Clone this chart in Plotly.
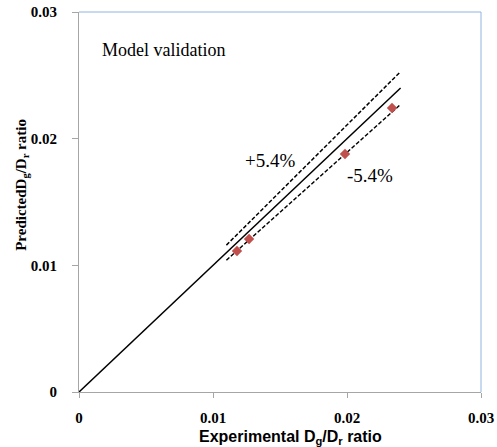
import plotly.graph_objects as go

exp_vals = [0.01179, 0.01269, 0.01985, 0.02336]
pred_vals = [0.01113, 0.01208, 0.01879, 0.02242]
line_x = [0.0, 0.024]
band_x = [0.011, 0.024]
band_pct = 0.054
x_ticks = [0, 0.01, 0.02, 0.03]
y_ticks = [0, 0.01, 0.02, 0.03]
tick_text = ["0", "0.01", "0.02", "0.03"]

fig = go.Figure()
fig.add_trace(go.Scatter(x=line_x, y=line_x, mode="lines",
                         line=dict(color="black", width=1.5), showlegend=False))
fig.add_trace(go.Scatter(x=band_x, y=[v * (1 + band_pct) for v in band_x], mode="lines",
                         line=dict(color="black", width=1.5, dash="4px,2px"), showlegend=False))
fig.add_trace(go.Scatter(x=band_x, y=[v * (1 - band_pct) for v in band_x], mode="lines",
                         line=dict(color="black", width=1.5, dash="4px,2px"), showlegend=False))
fig.add_trace(go.Scatter(x=exp_vals, y=pred_vals, mode="markers",
                         marker=dict(symbol="diamond", size=8, color="#c0504d"), showlegend=False))

serif = "Liberation Serif, Times New Roman, serif"
fig.add_annotation(x=0.0016, y=0.0270, text="Model validation", showarrow=False,
                   xanchor="left", font=dict(family=serif, size=18, color="black"))
fig.add_annotation(x=0.01425, y=0.0183, text="+5.4%", showarrow=False,
                   font=dict(family=serif, size=19, color="black"))
fig.add_annotation(x=0.0217, y=0.0171, text="-5.4%", showarrow=False,
                   font=dict(family=serif, size=19, color="black"))

# axis titles
fig.add_annotation(xref="paper", yref="paper", x=0.525, y=-0.121,
                   xanchor="center", yanchor="middle",
                   text="Experimental D<sub>g</sub>/D<sub>r</sub> ratio", showarrow=False,
                   font=dict(family="Liberation Sans, Arial, sans-serif", size=16,
                             color="black", weight="bold"))
fig.add_annotation(xref="paper", yref="paper", x=-0.142, y=0.545, textangle=-90,
                   xanchor="center", yanchor="middle",
                   text="PredictedD<sub>g</sub>/D<sub>r</sub> ratio", showarrow=False,
                   font=dict(family=serif, size=15, color="black", weight="bold"))

# top/right light blue border
fig.add_shape(type="line", xref="paper", yref="paper", x0=0, x1=1, y0=1, y1=1,
              line=dict(color="#8eb4e3", width=1))
fig.add_shape(type="line", xref="paper", yref="paper", x0=1, x1=1, y0=0, y1=1,
              line=dict(color="#8eb4e3", width=1))

fig.update_xaxes(range=[0, 0.03], tickvals=x_ticks, ticktext=tick_text, automargin=False,
                 showgrid=False, zeroline=False, showline=True, linecolor="#a6a6a6",
                 ticks="outside", ticklen=5, tickcolor="#a6a6a6", ticklabelstandoff=7,
                 ticklabeloverflow="allow",
                 tickfont=dict(family=serif, size=15, color="black", weight="bold"))
fig.update_yaxes(range=[0, 0.03], tickvals=y_ticks, ticktext=tick_text, automargin=False,
                 showgrid=False, zeroline=False, showline=True, linecolor="#a6a6a6",
                 ticks="outside", ticklen=6, tickcolor="#a6a6a6", ticklabelstandoff=12,
                 ticklabeloverflow="allow",
                 tickfont=dict(family=serif, size=15, color="black", weight="bold"))

fig.update_layout(width=497, height=447, margin=dict(l=79, r=16, t=12, b=55),
                  plot_bgcolor="white", paper_bgcolor="white")
# remove the page's default body margin so the figure sits at the window's corner
fig.write_html("out.html", config={"displayModeBar": False},
               post_script="document.body.style.margin='0';")
